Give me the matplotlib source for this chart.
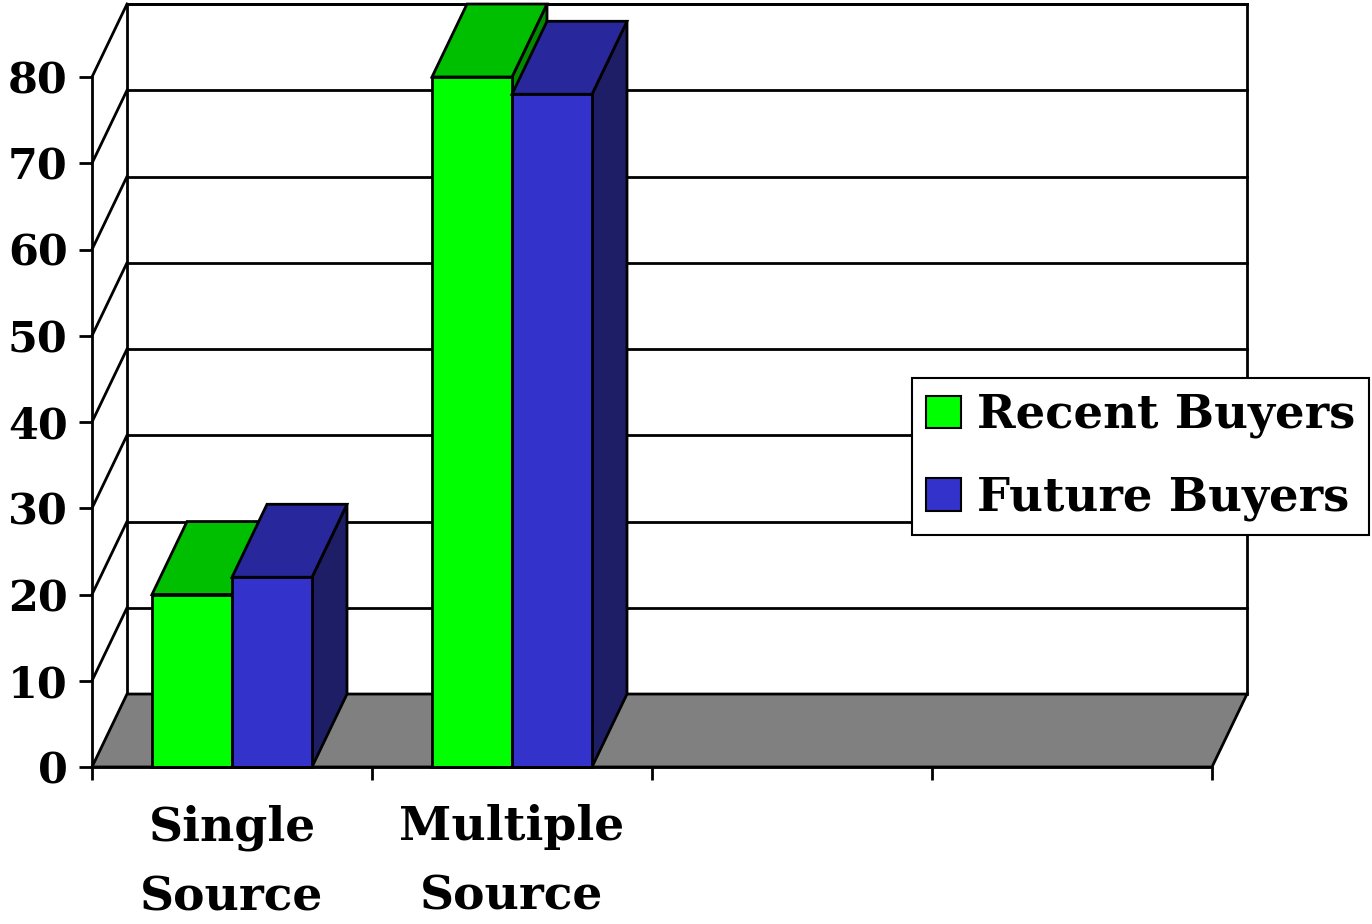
import matplotlib.pyplot as plt
from matplotlib.patches import Polygon, Patch

categories = ['Single\nSource', 'Multiple\nSource']
recent_buyers = [20, 80]
future_buyers = [22, 78]
series_names = ['Recent Buyers', 'Future Buyers']

n_slots = 4          # category slots on the floor, two are empty
ymax = 80
depth_x = 0.125      # depth offset in category units
depth_y = 8.46       # depth offset in value units

# face colours: front, top, side
green = ('#00ff00', '#00bf00', '#008c00')
blue = ('#3333cc', '#28289c', '#1e1e66')

plt.rcParams['font.family'] = ['DejaVu Serif']
plt.rcParams['font.weight'] = 'bold'

fig = plt.figure(figsize=(13.72, 9.24), dpi=100)
ax = fig.add_axes([92 / 1372, 157 / 924, 1120 / 1372, (767 - 77) / 924])
ax.set_xlim(0, n_slots)
ax.set_ylim(0, ymax)
lw = 2


def poly(pts, fc, z):
    ax.add_patch(Polygon(pts, closed=True, facecolor=fc, edgecolor='black',
                         lw=lw, zorder=z, clip_on=False, joinstyle='miter'))


# back wall and left wall
poly([(depth_x, depth_y), (depth_x, ymax + depth_y),
      (n_slots + depth_x, ymax + depth_y), (n_slots + depth_x, depth_y)], 'white', 1)
for v in range(10, ymax + 1, 10):
    ax.plot([depth_x, n_slots + depth_x], [v + depth_y, v + depth_y],
            color='black', lw=lw, zorder=2, clip_on=False)
    ax.plot([0, depth_x], [v, v + depth_y], color='black', lw=lw, zorder=2, clip_on=False)

# floor
poly([(0, 0), (depth_x, depth_y), (n_slots + depth_x, depth_y), (n_slots, 0)], '#808080', 3)

gap = 60 / 280
bar_w = 80 / 280


def bar3d(x0, h, colors, z):
    front, top, side = colors
    poly([(x0 + bar_w, 0), (x0 + bar_w + depth_x, depth_y),
          (x0 + bar_w + depth_x, h + depth_y), (x0 + bar_w, h)], side, z)
    poly([(x0, h), (x0 + depth_x, h + depth_y),
          (x0 + bar_w + depth_x, h + depth_y), (x0 + bar_w, h)], top, z)
    poly([(x0, 0), (x0, h), (x0 + bar_w, h), (x0 + bar_w, 0)], front, z)


for i in range(len(categories)):
    bar3d(i + gap, recent_buyers[i], green, 4)
    bar3d(i + gap + bar_w, future_buyers[i], blue, 5)

for s in ['top', 'right']:
    ax.spines[s].set_visible(False)
for s in ['left', 'bottom']:
    ax.spines[s].set_linewidth(lw)
    ax.spines[s].set_zorder(6)

ax.set_yticks(range(0, ymax + 1, 10))
ax.tick_params(axis='y', direction='out', length=9.5, width=lw, pad=8, labelsize=31)
ax.set_xticks(range(n_slots + 1))
ax.set_xticklabels([])
ax.tick_params(axis='x', which='major', direction='out', length=9.5, width=lw)
ax.set_xticks([i + 0.5 for i in range(len(categories))], minor=True)
ax.set_xticklabels(categories, minor=True, fontsize=34, linespacing=1.65)
ax.tick_params(axis='x', which='minor', length=0, pad=27)
for t in ax.get_yticklabels() + ax.get_xticklabels(minor=True):
    t.set_fontweight('bold')

handles = [Patch(facecolor=green[0], edgecolor='black', lw=1.5),
           Patch(facecolor=blue[0], edgecolor='black', lw=1.5)]
leg = fig.legend(handles, series_names, loc='upper left',
                 bbox_to_anchor=(912 / 1372, 1 - 378 / 924),
                 prop={'size': 33.5, 'weight': 'bold'}, frameon=True, fancybox=False,
                 edgecolor='black', framealpha=1, borderpad=0.3, handlelength=0.76,
                 handleheight=0.69, handletextpad=0.33, labelspacing=0.78,
                 borderaxespad=0)
leg.get_frame().set_linewidth(1.5)

fig.savefig('out.png', dpi=100)
